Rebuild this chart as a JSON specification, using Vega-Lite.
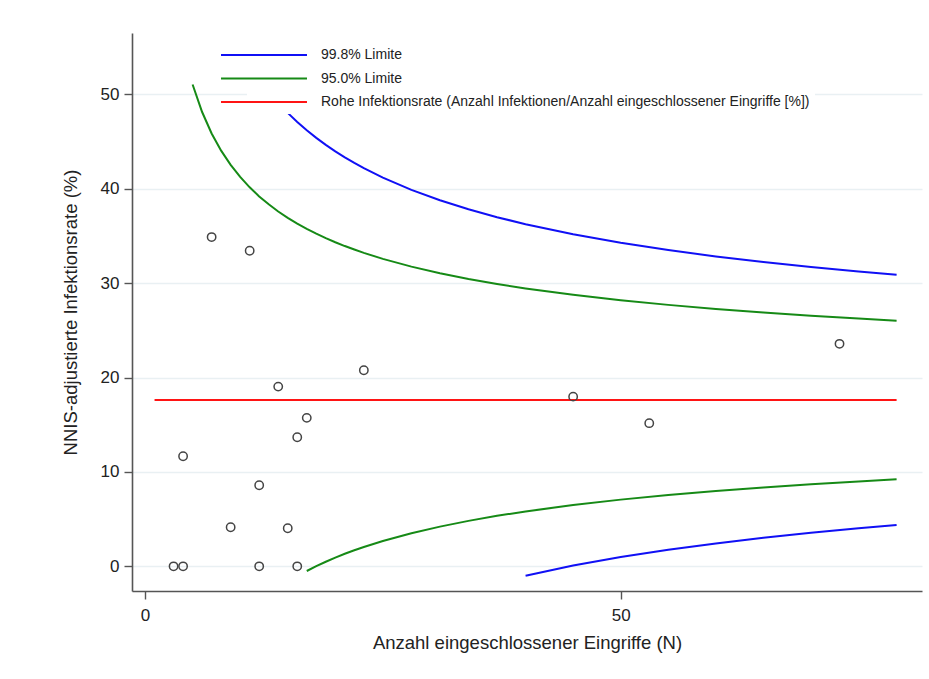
{
  "$schema": "https://vega.github.io/schema/vega-lite/v6.json",
  "width": 790,
  "height": 558,
  "autosize": {"type": "none"},
  "padding": {"left": 132, "top": 33, "right": 7, "bottom": 88},
  "background": "white",
  "config": {
    "font": "Liberation Sans",
    "view": {"stroke": null},
    "axis": {
      "labelFont": "Liberation Sans",
      "titleFont": "Liberation Sans",
      "labelColor": "#222",
      "titleColor": "#222",
      "titleFontWeight": "normal",
      "domainColor": "#555",
      "domainWidth": 1.6,
      "tickColor": "#555",
      "tickWidth": 1.4,
      "tickSize": 8,
      "labelFontSize": 17,
      "titleFontSize": 18.5
    }
  },
  "datasets": {
    "lines": [
      {"s": "99.8% Limite", "b": "u", "n": 15, "r": 48.04},
      {"s": "99.8% Limite", "b": "u", "n": 16, "r": 47.07},
      {"s": "99.8% Limite", "b": "u", "n": 17, "r": 46.19},
      {"s": "99.8% Limite", "b": "u", "n": 18, "r": 45.39},
      {"s": "99.8% Limite", "b": "u", "n": 19, "r": 44.65},
      {"s": "99.8% Limite", "b": "u", "n": 20, "r": 43.96},
      {"s": "99.8% Limite", "b": "u", "n": 21, "r": 43.33},
      {"s": "99.8% Limite", "b": "u", "n": 22, "r": 42.74},
      {"s": "99.8% Limite", "b": "u", "n": 23, "r": 42.18},
      {"s": "99.8% Limite", "b": "u", "n": 25, "r": 41.18},
      {"s": "99.8% Limite", "b": "u", "n": 28, "r": 39.88},
      {"s": "99.8% Limite", "b": "u", "n": 31, "r": 38.78},
      {"s": "99.8% Limite", "b": "u", "n": 34, "r": 37.83},
      {"s": "99.8% Limite", "b": "u", "n": 37, "r": 36.99},
      {"s": "99.8% Limite", "b": "u", "n": 40, "r": 36.25},
      {"s": "99.8% Limite", "b": "u", "n": 45, "r": 35.18},
      {"s": "99.8% Limite", "b": "u", "n": 50, "r": 34.28},
      {"s": "99.8% Limite", "b": "u", "n": 55, "r": 33.51},
      {"s": "99.8% Limite", "b": "u", "n": 60, "r": 32.83},
      {"s": "99.8% Limite", "b": "u", "n": 65, "r": 32.24},
      {"s": "99.8% Limite", "b": "u", "n": 70, "r": 31.70},
      {"s": "99.8% Limite", "b": "u", "n": 75, "r": 31.23},
      {"s": "99.8% Limite", "b": "u", "n": 79, "r": 30.88},
      {"s": "99.8% Limite", "b": "l", "n": 40, "r": -0.99},
      {"s": "99.8% Limite", "b": "l", "n": 45, "r": 0.08},
      {"s": "99.8% Limite", "b": "l", "n": 50, "r": 0.98},
      {"s": "99.8% Limite", "b": "l", "n": 55, "r": 1.75},
      {"s": "99.8% Limite", "b": "l", "n": 60, "r": 2.43},
      {"s": "99.8% Limite", "b": "l", "n": 65, "r": 3.02},
      {"s": "99.8% Limite", "b": "l", "n": 70, "r": 3.56},
      {"s": "99.8% Limite", "b": "l", "n": 75, "r": 4.03},
      {"s": "99.8% Limite", "b": "l", "n": 79, "r": 4.38},
      {"s": "95.0% Limite", "b": "u", "n": 5, "r": 51.04},
      {"s": "95.0% Limite", "b": "u", "n": 6, "r": 48.13},
      {"s": "95.0% Limite", "b": "u", "n": 7, "r": 45.86},
      {"s": "95.0% Limite", "b": "u", "n": 8, "r": 44.04},
      {"s": "95.0% Limite", "b": "u", "n": 9, "r": 42.53},
      {"s": "95.0% Limite", "b": "u", "n": 10, "r": 41.25},
      {"s": "95.0% Limite", "b": "u", "n": 11, "r": 40.15},
      {"s": "95.0% Limite", "b": "u", "n": 12, "r": 39.19},
      {"s": "95.0% Limite", "b": "u", "n": 13, "r": 38.35},
      {"s": "95.0% Limite", "b": "u", "n": 14, "r": 37.59},
      {"s": "95.0% Limite", "b": "u", "n": 15, "r": 36.92},
      {"s": "95.0% Limite", "b": "u", "n": 16, "r": 36.31},
      {"s": "95.0% Limite", "b": "u", "n": 17, "r": 35.75},
      {"s": "95.0% Limite", "b": "u", "n": 18, "r": 35.24},
      {"s": "95.0% Limite", "b": "u", "n": 19, "r": 34.77},
      {"s": "95.0% Limite", "b": "u", "n": 20, "r": 34.33},
      {"s": "95.0% Limite", "b": "u", "n": 21, "r": 33.93},
      {"s": "95.0% Limite", "b": "u", "n": 22, "r": 33.56},
      {"s": "95.0% Limite", "b": "u", "n": 23, "r": 33.21},
      {"s": "95.0% Limite", "b": "u", "n": 25, "r": 32.57},
      {"s": "95.0% Limite", "b": "u", "n": 28, "r": 31.75},
      {"s": "95.0% Limite", "b": "u", "n": 31, "r": 31.05},
      {"s": "95.0% Limite", "b": "u", "n": 34, "r": 30.44},
      {"s": "95.0% Limite", "b": "u", "n": 37, "r": 29.91},
      {"s": "95.0% Limite", "b": "u", "n": 40, "r": 29.44},
      {"s": "95.0% Limite", "b": "u", "n": 45, "r": 28.77},
      {"s": "95.0% Limite", "b": "u", "n": 50, "r": 28.19},
      {"s": "95.0% Limite", "b": "u", "n": 55, "r": 27.70},
      {"s": "95.0% Limite", "b": "u", "n": 60, "r": 27.27},
      {"s": "95.0% Limite", "b": "u", "n": 65, "r": 26.90},
      {"s": "95.0% Limite", "b": "u", "n": 70, "r": 26.56},
      {"s": "95.0% Limite", "b": "u", "n": 75, "r": 26.26},
      {"s": "95.0% Limite", "b": "u", "n": 79, "r": 26.03},
      {"s": "95.0% Limite", "b": "l", "n": 17, "r": -0.49},
      {"s": "95.0% Limite", "b": "l", "n": 18, "r": 0.02},
      {"s": "95.0% Limite", "b": "l", "n": 19, "r": 0.49},
      {"s": "95.0% Limite", "b": "l", "n": 20, "r": 0.93},
      {"s": "95.0% Limite", "b": "l", "n": 21, "r": 1.33},
      {"s": "95.0% Limite", "b": "l", "n": 22, "r": 1.70},
      {"s": "95.0% Limite", "b": "l", "n": 23, "r": 2.05},
      {"s": "95.0% Limite", "b": "l", "n": 25, "r": 2.69},
      {"s": "95.0% Limite", "b": "l", "n": 28, "r": 3.51},
      {"s": "95.0% Limite", "b": "l", "n": 31, "r": 4.21},
      {"s": "95.0% Limite", "b": "l", "n": 34, "r": 4.82},
      {"s": "95.0% Limite", "b": "l", "n": 37, "r": 5.35},
      {"s": "95.0% Limite", "b": "l", "n": 40, "r": 5.82},
      {"s": "95.0% Limite", "b": "l", "n": 45, "r": 6.49},
      {"s": "95.0% Limite", "b": "l", "n": 50, "r": 7.07},
      {"s": "95.0% Limite", "b": "l", "n": 55, "r": 7.56},
      {"s": "95.0% Limite", "b": "l", "n": 60, "r": 7.99},
      {"s": "95.0% Limite", "b": "l", "n": 65, "r": 8.36},
      {"s": "95.0% Limite", "b": "l", "n": 70, "r": 8.70},
      {"s": "95.0% Limite", "b": "l", "n": 75, "r": 9.00},
      {"s": "95.0% Limite", "b": "l", "n": 79, "r": 9.23},
      {"s": "Rohe Infektionsrate (Anzahl Infektionen/Anzahl eingeschlossener Eingriffe [%])", "b": "m", "n": 1, "r": 17.63},
      {"s": "Rohe Infektionsrate (Anzahl Infektionen/Anzahl eingeschlossener Eingriffe [%])", "b": "m", "n": 79, "r": 17.63}
    ],
    "points": [
      {"n": 7, "r": 34.88},
      {"n": 11, "r": 33.43},
      {"n": 4, "r": 11.67},
      {"n": 14, "r": 19.04},
      {"n": 23, "r": 20.78},
      {"n": 17, "r": 15.73},
      {"n": 16, "r": 13.68},
      {"n": 12, "r": 8.59},
      {"n": 9, "r": 4.14},
      {"n": 15, "r": 4.04},
      {"n": 3, "r": 0},
      {"n": 4, "r": 0},
      {"n": 12, "r": 0},
      {"n": 16, "r": 0},
      {"n": 45, "r": 17.98},
      {"n": 53, "r": 15.17},
      {"n": 73, "r": 23.57}
    ]
  },
  "layer": [
    {
      "data": {"name": "lines"},
      "mark": {"type": "line", "strokeWidth": 2, "clip": true},
      "encoding": {
        "x": {
          "field": "n", "type": "quantitative",
          "scale": {"domain": [-1.37, 81.67], "nice": false, "zero": false},
          "axis": {
            "title": "Anzahl eingeschlossener Eingriffe (N)",
            "values": [0, 50], "grid": false,
            "labelPadding": 8, "titlePadding": 10
          }
        },
        "y": {
          "field": "r", "type": "quantitative",
          "scale": {"domain": [-2.61, 56.5], "nice": false, "zero": false},
          "axis": {
            "title": "NNIS-adjustierte Infektionsrate (%)",
            "values": [0, 10, 20, 30, 40, 50],
            "grid": true, "gridColor": "#e9f0f3", "gridWidth": 1.5,
            "labelPadding": 5, "titlePadding": 20
          }
        },
        "color": {
          "field": "s", "type": "nominal",
          "scale": {
            "domain": ["99.8% Limite", "95.0% Limite", "Rohe Infektionsrate (Anzahl Infektionen/Anzahl eingeschlossener Eingriffe [%])"],
            "range": ["#1010f5", "#168a16", "#ff1414"]
          },
          "legend": {
            "title": null,
            "orient": "none",
            "legendX": 115,
            "legendY": 5,
            "fillColor": "white",
            "padding": 5,
            "symbolType": "M-4,0H4",
            "symbolSize": 462,
            "symbolStrokeWidth": 2,
            "labelFontSize": 14,
            "labelFont": "Liberation Sans",
            "labelColor": "#222",
            "labelLimit": 0,
            "labelOffset": 45,
            "rowPadding": 4.5
          }
        },
        "detail": {"field": "b"}
      }
    },
    {
      "data": {"name": "points"},
      "mark": {"type": "point", "shape": "circle", "size": 70, "strokeWidth": 1.5, "color": "#444", "filled": false, "opacity": 1},
      "encoding": {
        "x": {"field": "n", "type": "quantitative"},
        "y": {"field": "r", "type": "quantitative"}
      }
    }
  ]
}
